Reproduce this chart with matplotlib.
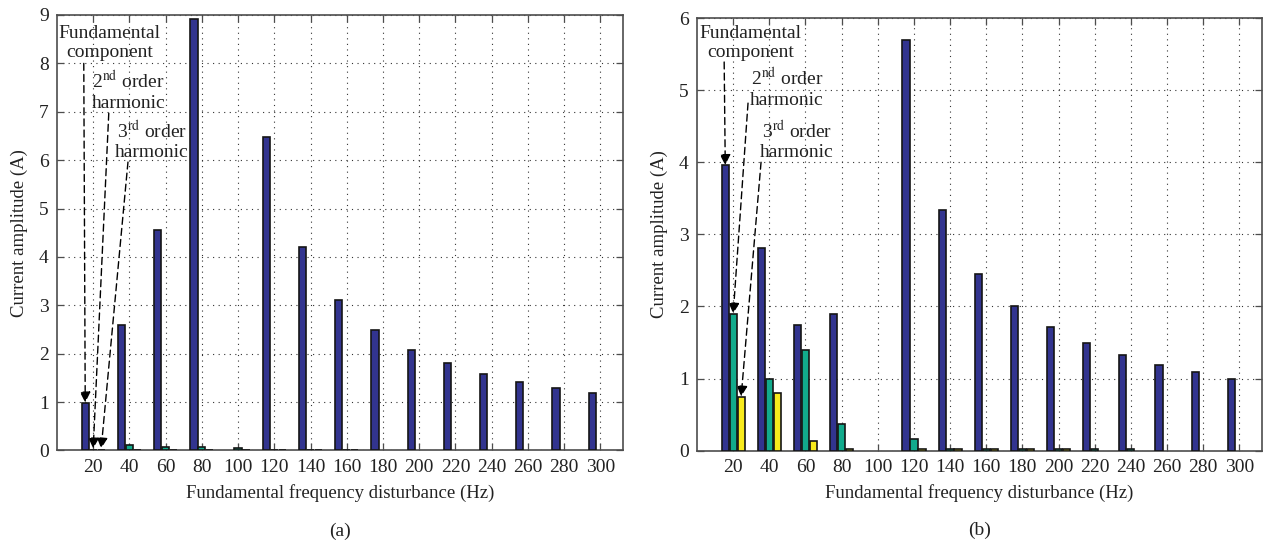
import numpy as np
import matplotlib
matplotlib.use('Agg')
import matplotlib.pyplot as plt

plt.rcParams['font.family'] = ['Liberation Serif', 'DejaVu Serif']
plt.rcParams['mathtext.fontset'] = 'stix'

freqs = [20, 40, 60, 80, 100, 120, 140, 160, 180, 200, 220, 240, 260, 280, 300]

# (a)
fund_a = [0.99, 2.59, 4.56, 8.92, 0.0, 6.48, 4.20, 3.10, 2.48, 2.08, 1.81, 1.58, 1.42, 1.30, 1.19]
h2_a = [0.02, 0.11, 0.08, 0.08, 0.05, 0.02, 0.02, 0.02, 0.0, 0.0, 0.0, 0.0, 0.0, 0.0, 0.0]
h3_a = [0.02, 0.02, 0.02, 0.02, 0.02, 0.02, 0.02, 0.02, 0.0, 0.0, 0.0, 0.0, 0.0, 0.0, 0.0]

# (b)
fund_b = [3.96, 2.81, 1.75, 1.89, 0.0, 5.69, 3.34, 2.45, 2.00, 1.71, 1.49, 1.33, 1.19, 1.09, 1.00]
h2_b = [1.90, 1.00, 1.40, 0.37, 0.0, 0.16, 0.03, 0.02, 0.02, 0.02, 0.02, 0.02, 0.0, 0.0, 0.0]
h3_b = [0.75, 0.80, 0.14, 0.03, 0.0, 0.03, 0.02, 0.02, 0.02, 0.02, 0.0, 0.0, 0.0, 0.0, 0.0]

colors = ['#32348f', '#12ab8c', '#f7ea1c']
offs = [-0.22, 0.0, 0.22]
bw = 0.2

fig = plt.figure(figsize=(12.69, 5.41), dpi=100)
ax_a = fig.add_axes([0.0449, 0.1673, 0.4461, 0.805])
ax_b = fig.add_axes([0.5493, 0.1669, 0.4452, 0.7998])

def draw(ax, series, ymax, ann, tag):
	x = np.arange(1, len(freqs) + 1)
	for vals, c, o in zip(series, colors, offs):
		v = np.array(vals)
		keep = v > 0
		ax.bar(x[keep] + o, v[keep], width=bw, color=c, edgecolor='#151515', linewidth=1.2, zorder=3)
	ax.set_xlim(0, 15.63)
	ax.set_ylim(0, ymax)
	ax.set_xticks(x)
	ax.set_xticklabels([str(f) for f in freqs])
	ax.set_yticks(range(0, ymax + 1))
	ax.grid(True, color='0.2', linestyle=(0, (1, 4)), linewidth=0.8, zorder=0)
	ax.tick_params(direction='in', top=True, right=True, length=5, width=0.9,
		colors='0.3', labelcolor='#222222', labelsize=14, pad=6)
	for s in ax.spines.values():
		s.set_color('0.3')
		s.set_linewidth(1.2)
	ax.set_xlabel('Fundamental frequency disturbance (Hz)', fontsize=13.5, color='#222222', labelpad=6)
	ax.set_ylabel('Current amplitude (A)', fontsize=13.5, color='#222222', labelpad=8)
	ax.text(0.5, -0.185, tag, transform=ax.transAxes, ha='center', va='center', fontsize=14, color='#222222')
	for label, txy, axy in ann:
		ax.text(txy[0], txy[1], label, ha='center', va='center', fontsize=14,
			linespacing=1.15, color='#222222', zorder=5)
		ax.annotate('', xy=axy, xytext=txy[2:],
			arrowprops=dict(arrowstyle='-|>', linestyle=(0, (5, 3)), color='k', lw=1.0,
				mutation_scale=16, shrinkA=0, shrinkB=0), zorder=6)

ann_a = [
	('Fundamental\ncomponent', (1.45, 8.42, 0.74, 8.0), (1 + offs[0], fund_a[0])),
	('2$^{\\mathrm{nd}}$ order\nharmonic', (1.97, 7.43, 1.43, 6.97), (1 + offs[1], h2_a[0] + 0.02)),
	('3$^{\\mathrm{rd}}$ order\nharmonic', (2.62, 6.41, 1.96, 5.96), (1 + offs[2], h3_a[0] + 0.02)),
]
ann_b = [
	('Fundamental\ncomponent', (1.47, 5.65, 0.75, 5.39), (1 + offs[0], fund_b[0])),
	('2$^{\\mathrm{nd}}$ order\nharmonic', (2.49, 5.03, 1.41, 4.82), (1 + offs[1], h2_b[0])),
	('3$^{\\mathrm{rd}}$ order\nharmonic', (2.77, 4.30, 1.77, 4.0), (1 + offs[2], h3_b[0])),
]

draw(ax_a, [fund_a, h2_a, h3_a], 9, ann_a, '(a)')
draw(ax_b, [fund_b, h2_b, h3_b], 6, ann_b, '(b)')

fig.savefig('out.png', dpi=100, facecolor='white')
